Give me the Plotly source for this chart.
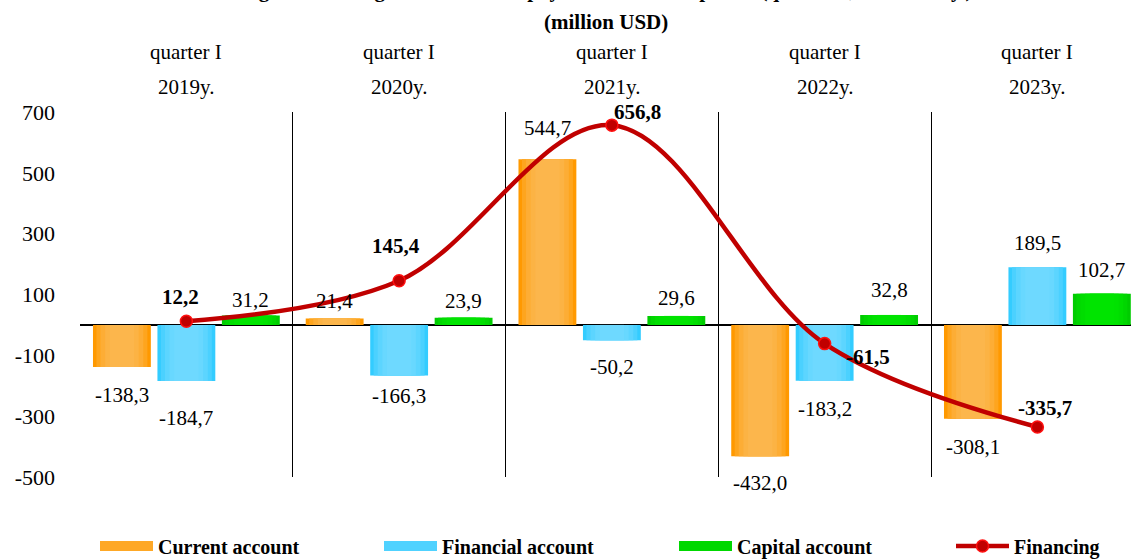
import plotly.graph_objects as go

# ---------------- data ----------------
quarter_labels = ["quarter I", "quarter I", "quarter I", "quarter I", "quarter I"]
year_labels = ["2019y.", "2020y.", "2021y.", "2022y.", "2023y."]
current_account = [-138.3, 21.4, 544.7, -432.0, -308.1]
financial_account = [-184.7, -166.3, -50.2, -183.2, 189.5]
capital_account = [31.2, 23.9, 29.6, 32.8, 102.7]
financing = [12.2, 145.4, 656.8, -61.5, -335.7]
y_tick_values = [-500, -300, -100, 100, 300, 500, 700]
title_line1 = "Figure 1. Changes in balance of payments of the Republic (quarter I, 2019-2023y.)"
title_line2 = "(million USD)"
series_names = ["Current account", "Financial account", "Capital account", "Financing"]

# ---------------- style ----------------
FONT = "Liberation Serif"
FS = 21
W, H = 1131, 560
M_L, M_T, M_B = 80, 112, 83
X_RANGE = [-0.5, 4.44]
BAR_W = 0.272
SLOTS = [-0.303, 0.0, 0.303]
EDGE = [(255, 153, 0), (51, 204, 255), (0, 204, 0)]
MID = [(252, 182, 76), (110, 217, 255), (0, 228, 0)]
LAYERS = [(1.0, 0.0), (0.88, 0.4), (0.74, 0.7), (0.58, 0.9), (0.42, 1.0)]
RED = "#C00000"
# distance (px) between bar end and label centre, per series / category
LABEL_OFFSET = [[28, 17, 31, 27, 28],
                [37, 20, 27, 28, 24],
                [15, 17, 18, 25, 24]]
FIN_SHIFT = [(-6, 24), (-3, 35), (26, 13), (43, -13), (8, 19)]


def blend(c1, c2, t):
    return "rgb(%d,%d,%d)" % tuple(round(a + (b - a) * t) for a, b in zip(c1, c2))


def fmt(v):
    return f"{v:.1f}".replace(".", ",")


idx = list(range(len(year_labels)))
bars = [current_account, financial_account, capital_account]

fig = go.Figure()

for k, vals in enumerate(bars):
    for f, t in LAYERS:
        w = BAR_W * f
        fig.add_trace(go.Bar(
            x=idx, y=vals, width=w, offset=SLOTS[k] - w / 2,
            marker=dict(color=blend(EDGE[k], MID[k], t), line=dict(width=0)),
            showlegend=False, hoverinfo="skip"))

fig.add_trace(go.Scatter(
    x=idx, y=financing, mode="lines+markers", name=series_names[3],
    line=dict(color=RED, width=4.5, shape="spline", smoothing=1.0),
    marker=dict(size=12, color=RED, line=dict(color="#FF1010", width=1.5)),
    legend="legend4", hoverinfo="skip"))

# legend-only swatches for bar series
legend_ids = ["legend", "legend2", "legend3"]
for k in range(3):
    fig.add_trace(go.Scatter(
        x=[None], y=[None], mode="lines", name=series_names[k],
        line=dict(color=blend(EDGE[k], MID[k], 0.5), width=14),
        legend=legend_ids[k], hoverinfo="skip"))

annotations = []
# bar value labels
for k, vals in enumerate(bars):
    for i, v in enumerate(vals):
        off = LABEL_OFFSET[k][i]
        annotations.append(dict(
            x=i + SLOTS[k], y=v, xref="x", yref="y", text=fmt(v), showarrow=False,
            yanchor="middle", yshift=off if v >= 0 else -off,
            font=dict(family=FONT, size=FS, color="black")))
# financing labels
for i, v in enumerate(financing):
    dx, dy = FIN_SHIFT[i]
    annotations.append(dict(
        x=i, y=v, xref="x", yref="y", text="<b>" + fmt(v) + "</b>", showarrow=False,
        xanchor="center", yanchor="middle", xshift=dx, yshift=dy,
        font=dict(family=FONT, size=FS, color="black")))
# category labels (two rows)
for i in idx:
    annotations.append(dict(x=i, y=1, xref="x", yref="paper", text=quarter_labels[i],
                            showarrow=False, yanchor="middle", yshift=60,
                            font=dict(family=FONT, size=FS, color="black")))
    annotations.append(dict(x=i, y=1, xref="x", yref="paper", text=year_labels[i],
                            showarrow=False, yanchor="middle", yshift=25,
                            font=dict(family=FONT, size=FS, color="black")))
# title lines
annotations.append(dict(x=0.5, y=1, xref="paper", yref="paper", text="<b>" + title_line1 + "</b>",
                        showarrow=False, yanchor="bottom", yshift=108,
                        font=dict(family=FONT, size=FS, color="black")))
annotations.append(dict(x=0.5, y=1, xref="paper", yref="paper", text="<b>" + title_line2 + "</b>",
                        showarrow=False, yanchor="middle", yshift=90,
                        font=dict(family=FONT, size=FS, color="black")))


legend_font = dict(family=FONT, size=20, color="black", weight="bold")
leg_common = dict(orientation="h", yanchor="middle", y=1 - 546 / H, xanchor="left",
                  xref="container", yref="container",
                  bgcolor="rgba(0,0,0,0)", font=legend_font, itemwidth=53,
                  tracegroupgap=0)
legend_px = [95, 379, 674, 951]

fig.update_layout(
    width=W, height=H,
    margin=dict(l=M_L, r=0, t=M_T, b=M_B, pad=0, autoexpand=False),
    paper_bgcolor="white", plot_bgcolor="white",
    barmode="overlay",
    font=dict(family=FONT, size=FS, color="black"),
    showlegend=True,
    legend=dict(leg_common, x=legend_px[0] / W),
    legend2=dict(leg_common, x=legend_px[1] / W),
    legend3=dict(leg_common, x=legend_px[2] / W),
    legend4=dict(leg_common, x=legend_px[3] / W),
    annotations=annotations,
    xaxis=dict(range=X_RANGE, tickmode="array",
               tickvals=[i - 0.5 for i in idx],
               showticklabels=False, ticks="", automargin=False,
               showgrid=True, gridcolor="black", gridwidth=1,
               zeroline=False, showline=False, fixedrange=True),
    yaxis=dict(range=[-500, 700], tickmode="array", tickvals=y_tick_values,
               ticktext=[str(v) for v in y_tick_values], automargin=False,
               ticks="", showgrid=False, zeroline=True, zerolinecolor="black",
               zerolinewidth=1.5, showline=False, ticklabelstandoff=24,
               tickfont=dict(family=FONT, size=22, color="black"), fixedrange=True),
)

fig.write_html("out.html", config={"displayModeBar": False},
               post_script="document.body.style.margin='0px';document.body.style.overflow='hidden';")
